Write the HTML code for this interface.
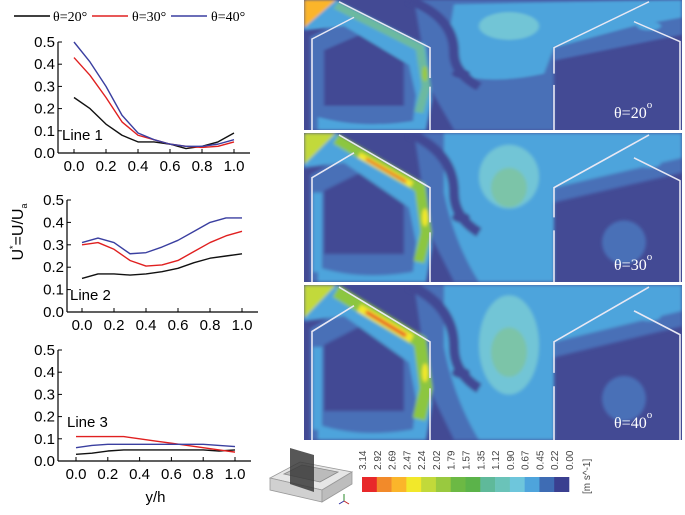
<!DOCTYPE html>
<html><head><meta charset="utf-8">
<style>
body{margin:0;background:#fff;}
svg{display:block;font-family:"Liberation Sans",sans-serif;}
</style></head>
<body>
<svg id="fig" width="685" height="515" viewBox="0 0 685 515">
<defs>
<filter id="bl" x="-10%" y="-10%" width="120%" height="120%"><feGaussianBlur stdDeviation="1.6"/></filter>
<clipPath id="pc"><rect x="0" y="0" width="378" height="150"/></clipPath>
</defs>
<g id="legend" font-family="Liberation Serif,serif" font-size="14">
  <g><line x1="14" y1="16" x2="50" y2="16" stroke="#000" stroke-width="1.5"/><text x="53" y="21">θ=20°</text></g>
  <g><line x1="92" y1="16" x2="128" y2="16" stroke="#e02020" stroke-width="1.5"/><text x="132" y="21">θ=30°</text></g>
  <g><line x1="171" y1="16" x2="207" y2="16" stroke="#3a3fa0" stroke-width="1.5"/><text x="211" y="21">θ=40°</text></g>
</g>
<text transform="translate(23,232) rotate(-90)" text-anchor="middle" font-size="16">U<tspan font-size="9" dy="-7">*</tspan><tspan dy="7">=U/U</tspan><tspan font-size="9" dy="4">a</tspan></text>
<g id="charts"></g>
<g id="panels"></g>
<g id="colorbar"></g>
<g>
  <polygon points="270,478 300,462 352,472 322,490" fill="#e6e6e6" stroke="#999" stroke-width="0.8"/>
  <polygon points="270,478 322,490 322,502 270,490" fill="#d0d0d0" stroke="#999" stroke-width="0.8"/>
  <polygon points="322,490 352,472 352,484 322,502" fill="#bdbdbd" stroke="#999" stroke-width="0.8"/>
  <polygon points="284,474 302,465 338,472 320,482" fill="#bbb" stroke="#888" stroke-width="0.8"/>
  <polygon points="290,448 314,455 314,492 290,484" fill="#3a3a3a" opacity="0.85"/>
  <line x1="344" y1="494" x2="344" y2="501" stroke="#2a8a2a"/><line x1="344" y1="501" x2="339" y2="504" stroke="#2a2aa0"/><line x1="344" y1="501" x2="349" y2="504" stroke="#c02020"/>
</g>
<script>
// ---------- line chart data ----------
const xVals=[0,0.1,0.2,0.3,0.4,0.5,0.6,0.7,0.8,0.9,1.0];
const xTicks=["0.0","0.2","0.4","0.6","0.8","1.0"];
const yTicks=["0.0","0.1","0.2","0.3","0.4","0.5"];
const line1Black=[0.25,0.2,0.13,0.08,0.05,0.05,0.04,0.02,0.03,0.05,0.09];
const line1Red=[0.43,0.35,0.25,0.14,0.08,0.06,0.04,0.03,0.025,0.03,0.05];
const line1Blue=[0.50,0.41,0.30,0.17,0.09,0.06,0.04,0.03,0.03,0.04,0.06];
const line2Black=[0.15,0.17,0.17,0.165,0.17,0.18,0.195,0.22,0.24,0.25,0.26];
const line2Red=[0.30,0.31,0.28,0.23,0.205,0.21,0.23,0.27,0.31,0.34,0.36];
const line2Blue=[0.31,0.33,0.31,0.26,0.265,0.29,0.32,0.36,0.40,0.42,0.42];
const line3Black=[0.03,0.035,0.045,0.05,0.05,0.05,0.05,0.05,0.05,0.045,0.05];
const line3Red=[0.11,0.11,0.11,0.11,0.10,0.09,0.08,0.07,0.06,0.05,0.04];
const line3Blue=[0.06,0.07,0.075,0.075,0.075,0.075,0.075,0.075,0.075,0.07,0.065];
const cbLabels=["3.14","2.92","2.69","2.47","2.24","2.02","1.79","1.57","1.35","1.12","0.90","0.67","0.45","0.22","0.00"];
const cbColors=["#e8282a","#f28a2a","#fbb52a","#f2e82a","#c2d93a","#99c93f","#6cb944","#5bb34a","#5fb99a","#6ac3b9","#6ec6dc","#4ea4dc","#3e6cb4","#3a3f90"];

const NS="http://www.w3.org/2000/svg";
function mk(t,a,p){const e=document.createElementNS(NS,t);for(const k in a)e.setAttribute(k,a[k]);p.appendChild(e);return e;}
const charts=document.getElementById('charts');
const cfgs=[
 {name:"line-1",ax:58,x0:74,x1:234,y0:153,y1:42,lab:"Line 1",lx:62,ly:140,series:[line1Black,line1Red,line1Blue],xlab:false},
 {name:"line-2",ax:67,x0:82,x1:242,y0:312,y1:200,lab:"Line 2",lx:70,ly:300,series:[line2Black,line2Red,line2Blue],xlab:false},
 {name:"line-3",ax:58,x0:76,x1:235,y0:461,y1:350,lab:"Line 3",lx:67,ly:427,series:[line3Black,line3Red,line3Blue],xlab:true}
];
const cols=["#111","#e02020","#3a3fa0"];
const sNames=["theta-20","theta-30","theta-40"];
cfgs.forEach(c=>{
  const g=mk('g',{},charts);
  
  
  const sx=v=>c.x0+(c.x1-c.x0)*v, sy=v=>c.y0-(c.y0-c.y1)*v/0.5;
  const ya=mk('line',{x1:c.ax,y1:c.y1,x2:c.ax,y2:c.y0,stroke:"#000","stroke-width":1.2},g);
  
  
  const xa=mk('line',{x1:c.ax,y1:c.y0,x2:c.x1+16,y2:c.y0,stroke:"#000","stroke-width":1.2},g);
  
  
  yTicks.forEach((t,i)=>{const y=sy(i*0.1);
    mk('line',{x1:c.ax,y1:y,x2:c.ax+4,y2:y,stroke:"#000"},g);
    const tx=mk('text',{x:c.ax-3,y:y+5,"text-anchor":"end","font-size":15},g);tx.textContent=t;
    
    });
  xTicks.forEach((t,i)=>{const x=sx(i*0.2);
    mk('line',{x1:x,y1:c.y0,x2:x,y2:c.y0-4,stroke:"#000"},g);
    const tx=mk('text',{x:x,y:c.y0+18,"text-anchor":"middle","font-size":15},g);tx.textContent=t;
    
    });
  c.series.forEach((s,k)=>{
    const p=mk('polyline',{points:s.map((v,i)=>sx(xVals[i])+","+sy(v)).join(" "),fill:"none",stroke:cols[k],"stroke-width":1.4,"stroke-linejoin":"round"},g);
    
    });
  const l=mk('text',{x:c.lx,y:c.ly,"font-size":15},g);l.textContent=c.lab;
  
  
  if(c.xlab){const t=mk('text',{x:(c.x0+c.x1)/2,y:502,"text-anchor":"middle","font-size":15},g);t.textContent="y/h";
    
    }
});
// ---------- colorbar ----------
const cb=document.getElementById('colorbar');
const cbx0=362,cbx1=569,sw=(cbx1-cbx0)/cbColors.length;
cbColors.forEach((c,i)=>{const r=mk('rect',{x:cbx0+i*sw,y:477,width:sw+0.3,height:15,fill:c},cb);
  
  });
cbLabels.forEach((t,i)=>{const x=cbx0+i*sw;
  const tx=mk('text',{transform:`translate(${x+4},470) rotate(-90)`,"font-size":10,fill:"#444"},cb);tx.textContent=t;
  
  });
const un=mk('text',{transform:"translate(590,494) rotate(-90)","font-size":10,fill:"#444"},cb);un.textContent="[m s^-1]";


// ---------- contour panels ----------
const panels=document.getElementById('panels');
const P=[{y:0,h:130,lab:"θ=20"},{y:133,h:149,lab:"θ=30"},{y:285,h:155,lab:"θ=40"}];
P.forEach((p,idx)=>{
  const g=mk('g',{transform:`translate(304,${p.y}) scale(1,${p.h/150})`},panels);
  
  
  const c=mk('g',{"clip-path":"url(#pc)"},g);
  mk('rect',{x:0,y:0,width:378,height:150,fill:"#434a94"},c);
  const b=mk('g',{filter:"url(#bl)"},c);
  const nv="#434a94",lb="#4ea4dc",bl="#4a6fb7",cy="#72c5d6",tg="#7cc4a8";
  // middle channel
  mk('path',{d:"M110,0 L378,0 L378,40 L250,70 L250,150 L150,150 Q135,120 125,100 Z",fill:bl},b);
  if(idx==0){
    mk('path',{d:"M150,5 L378,0 L378,20 L330,30 L250,55 L240,85 Q200,95 170,90 Q150,70 145,40 Z",fill:lb},b);
  } else {
    mk('path',{d:"M140,0 L378,0 L378,25 L250,55 L250,150 L175,150 Q150,110 140,60 Z",fill:lb},b);
  }
  mk('path',{d:"M105,0 Q150,20 150,60 Q150,85 175,100",fill:"none",stroke:nv,"stroke-width":10},b);
  mk('ellipse',{cx:205,cy:30+idx*14,rx:30,ry:16+idx*16,fill:cy},b);
  if(idx>0)mk('ellipse',{cx:205,cy:45+idx*10,rx:18,ry:16+idx*4,fill:tg},b);
  mk('ellipse',{cx:157,cy:85,rx:9,ry:5,fill:nv},b);
  // left house
  mk('path',{d:"M6,42 L50,18 L122,60 L122,150 L6,150 Z",fill:bl},b);
  mk('path',{d:"M14,135 Q60,150 118,138 L118,150 L14,150 Z",fill:lb},b);
  if(idx>0){mk('path',{d:"M9,60 L9,140 L18,140 L18,60 Z",fill:lb},b);}
  mk('path',{d:"M20,58 L60,38 L100,62 L100,122 L20,122 Z",fill:nv},b);
  // right house inner
  if(idx>0)mk('ellipse',{cx:320,cy:110,rx:22,ry:22,fill:bl},b);
  mk('ellipse',{cx:345,cy:30,rx:12,ry:5,fill:lb},b);
  // jet
  const jw=idx;
  mk('path',{d:"M0,0 L32,0 L122,52 L128,115 L122,150 L108,150 L112,110 L105,75 L40,30 L0,35 Z",fill:lb},b);
  mk('path',{d:"M32,6 L116,55 L122,100 L115,130",fill:"none",stroke:jw==0?"#6cb9a0":"#8cc63f","stroke-width":9+jw*2},b);
  if(jw>0)mk('path',{d:"M55,22 L108,52",fill:"none",stroke:"#f2e82a","stroke-width":4+jw*2},b);
  if(jw>0)mk('path',{d:"M62,26 L102,49",fill:"none",stroke:"#e8482a","stroke-width":1.5+jw},b);
  mk('ellipse',{cx:121,cy:85,rx:3,ry:9,fill:jw>0?"#f2e82a":"#99c93f"},b);
  mk('path',{d:"M0,0 L32,0 L0,32 Z",fill:jw==0?"#fbb52a":"#c2d93a"},b);
  // walls
  const w={stroke:"#e8e8f4","stroke-width":1.6,fill:"none"};
  mk('polyline',Object.assign({points:"8,150 8,45 50,20"},w),g);
  mk('polyline',Object.assign({points:"35,2 126,55 126,90"},w),g);
  mk('line',Object.assign({x1:126,y1:100,x2:126,y2:150},w),g);
  mk('polyline',Object.assign({points:"250,85 250,55 345,2"},w),g);
  mk('line',Object.assign({x1:250,y1:98,x2:250,y2:150},w),g);
  mk('polyline',Object.assign({points:"330,25 376,48 376,150"},w),g);
  const t=mk('text',{x:614,y:p.y+p.h-12,"font-family":"Liberation Serif,serif","font-size":16,fill:"#fff"},panels);
  
  
  t.appendChild(document.createTextNode(p.lab));
  const ts=mk('tspan',{"font-size":11,dy:-10},t);
  ts.textContent="o";
});
</script>
</svg>
</body></html>
